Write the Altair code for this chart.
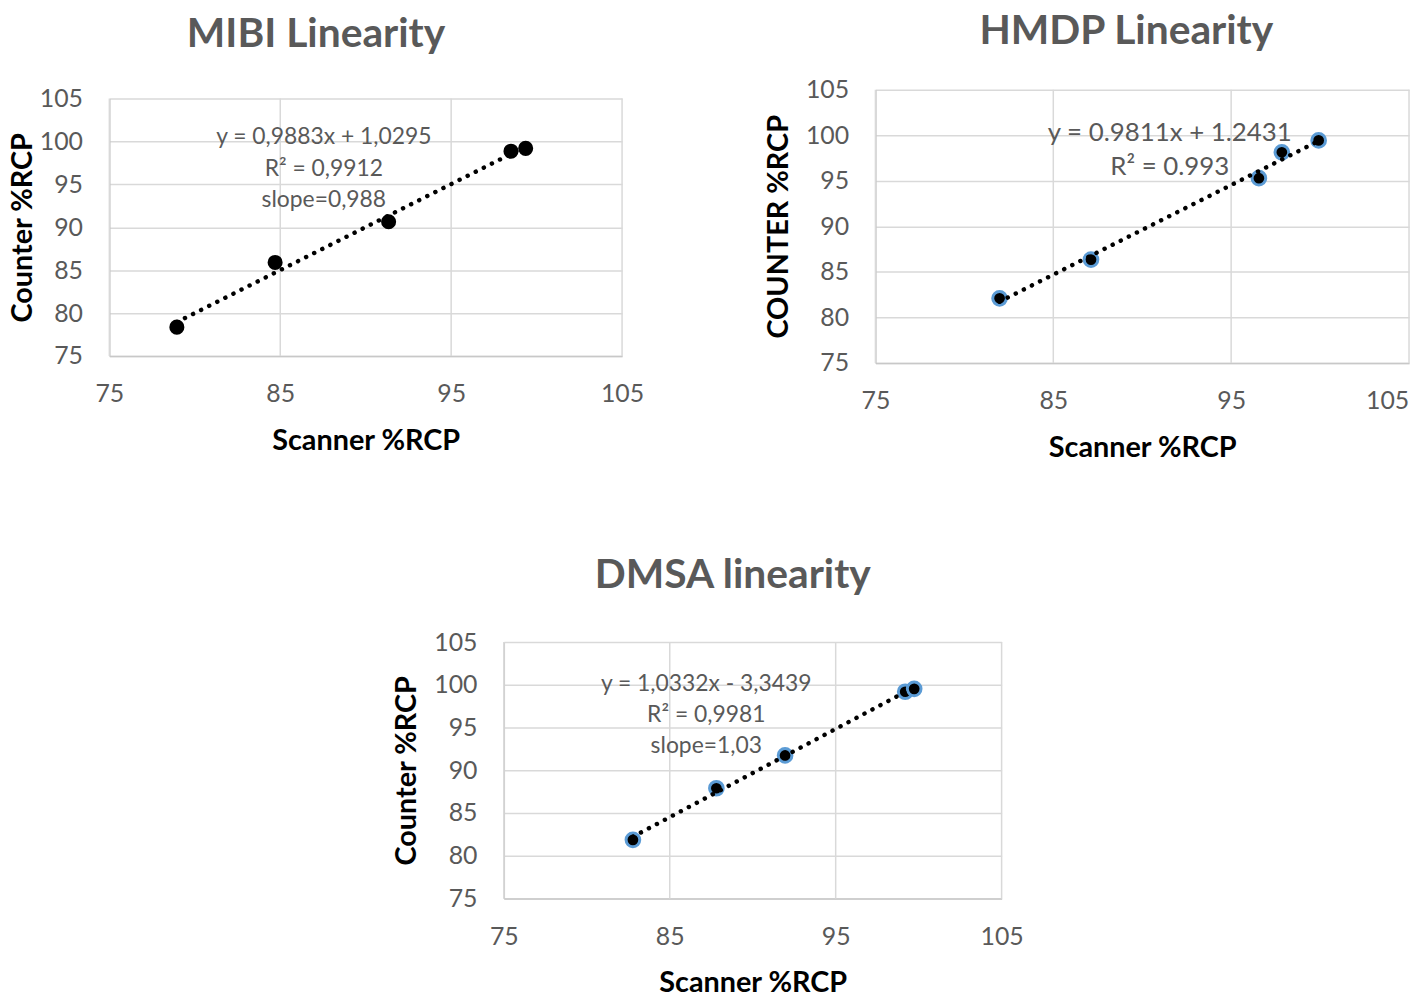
import altair as alt
import pandas as pd

# ---- data ----
mibi_scanner = [78.95, 84.70, 91.34, 98.50, 99.36]
mibi_counter = [78.36, 85.90, 90.64, 98.87, 99.20]
hmdp_scanner = [81.98, 87.12, 96.56, 97.85, 99.92]
hmdp_counter = [82.09, 86.34, 95.28, 98.12, 99.43]
dmsa_scanner = [82.78, 87.81, 91.95, 99.19, 99.73]
dmsa_counter = [81.86, 87.90, 91.74, 99.19, 99.53]

titles = ["MIBI Linearity", "HMDP Linearity", "DMSA linearity"]
y_titles = ["Counter %RCP", "COUNTER %RCP", "Counter %RCP"]
x_title = "Scanner %RCP"
equations = [
    ["y = 0,9883x + 1,0295", "R² = 0,9912", "slope=0,988"],
    ["y = 0.9811x + 1.2431", "R² = 0.993"],
    ["y = 1,0332x - 3,3439", "R² = 0,9981", "slope=1,03"],
]
x_ticks = [75, 85, 95, 105]
y_ticks = [75, 80, 85, 90, 95, 100, 105]

# annotation anchor positions (data units)
eq_x = [87.55, 91.55, 87.2]
eq_y = [[100.49, 96.78, 93.19], [100.19, 96.48], [100.12, 96.51, 92.79]]

FONT = "Lato"
GRAY = "#595959"
GRID = "#d9d9d9"


def panel(xs, ys, title, ytitle, eq, ex, ey, w, h, ring, title_dx, title_offset,
          ytp, eq_size, top_gap=0, last_shift=0):
    df = pd.DataFrame({"scanner": xs, "counter": ys})
    xsc = alt.Scale(domain=[75, 105], nice=False, zero=False)
    if top_gap:
        ysc = alt.Scale(domain=[75, 105], nice=False, zero=False, range=[h + top_gap, top_gap])
    else:
        ysc = alt.Scale(domain=[75, 105], nice=False, zero=False)
    xax_kw = dict(values=x_ticks, title=x_title, labelPadding=26, titlePadding=20,
                  grid=False, labelFlush=False)
    if last_shift:
        xax_kw["labelOffset"] = {
            "condition": {"test": "datum.value == %d" % x_ticks[-1], "value": last_shift},
            "value": 0,
        }
    xax = alt.Axis(**xax_kw)
    yax = alt.Axis(values=y_ticks, title=ytitle, labelPadding=27, titlePadding=ytp,
                   grid=True, labelFlush=False)

    # vertical grid lines at the x ticks, spanning the y domain
    vgrid = alt.Chart(pd.DataFrame({"t": x_ticks})).mark_rule(
        color=GRID, strokeWidth=1.5
    ).encode(
        x=alt.X("t:Q", scale=xsc, axis=xax),
        y=alt.Y(datum=75, type="quantitative", scale=ysc, axis=yax),
        y2=alt.Y2(datum=105),
    )

    base = alt.Chart(df)
    if ring:
        pts = base.mark_circle(size=190, fill="black", stroke="#5b9bd5", strokeWidth=3, opacity=1)
    else:
        pts = base.mark_circle(size=230, fill="black", opacity=1)
    pts = pts.encode(
        x=alt.X("scanner:Q", scale=xsc, axis=xax),
        y=alt.Y("counter:Q", scale=ysc, axis=yax),
    )
    line = base.transform_regression("scanner", "counter").mark_line(
        color="black", strokeDash=[0.1, 9], strokeWidth=4.5, strokeCap="round"
    ).encode(x="scanner:Q", y="counter:Q")
    eqdf = pd.DataFrame({"x": [ex] * len(eq), "y": ey, "t": eq})
    txt = alt.Chart(eqdf).mark_text(
        font=FONT, fontSize=eq_size, color=GRAY, align="center", baseline="middle"
    ).encode(x="x:Q", y="y:Q", text="t:N")
    return alt.layer(vgrid, pts, line, txt).properties(
        width=w,
        height=h + top_gap,
        title=alt.TitleParams(
            text=title, font=FONT, fontSize=41, fontWeight="bold", color=GRAY,
            anchor="middle", frame="group", dx=title_dx, offset=title_offset,
            baseline="alphabetic",
        ),
    )


def spacer(w, h):
    return alt.Chart(pd.DataFrame({"v": [0]})).mark_point(opacity=0).encode(
        x=alt.X("v:Q", axis=None), y=alt.Y("v:Q", axis=None)
    ).properties(width=w, height=h)


p1 = panel(mibi_scanner, mibi_counter, titles[0], y_titles[0], equations[0],
           eq_x[0], eq_y[0], 516, 259, False, -50, -1, 2, 23, top_gap=9)
p2 = panel(hmdp_scanner, hmdp_counter, titles[1], y_titles[1], equations[1],
           eq_x[1], eq_y[1], 537, 275, True, -16, -7, 12, 26, last_shift=-22)
p3 = panel(dmsa_scanner, dmsa_counter, titles[2], y_titles[2], equations[2],
           eq_x[2], eq_y[2], 501, 258, True, -20, 1, 12, 23)

row1 = alt.hconcat(p1, p2, spacing=121)
row2 = alt.hconcat(spacer(285, 1), p3, spacing=0)

chart = alt.vconcat(row1, row2, spacing=94).properties(
    padding=0
).configure(font=FONT).configure_view(stroke=None).configure_axis(
    labelFont=FONT, labelFontSize=25, labelColor=GRAY,
    titleFont=FONT, titleFontSize=29, titleFontWeight="bold", titleColor="black",
    gridColor=GRID, gridWidth=1.5, domainColor="#c8c8c8", domainWidth=1.5,
    ticks=False, tickSize=0,
)

chart.save("out.html", embed_options={"renderer": "svg", "actions": False})
